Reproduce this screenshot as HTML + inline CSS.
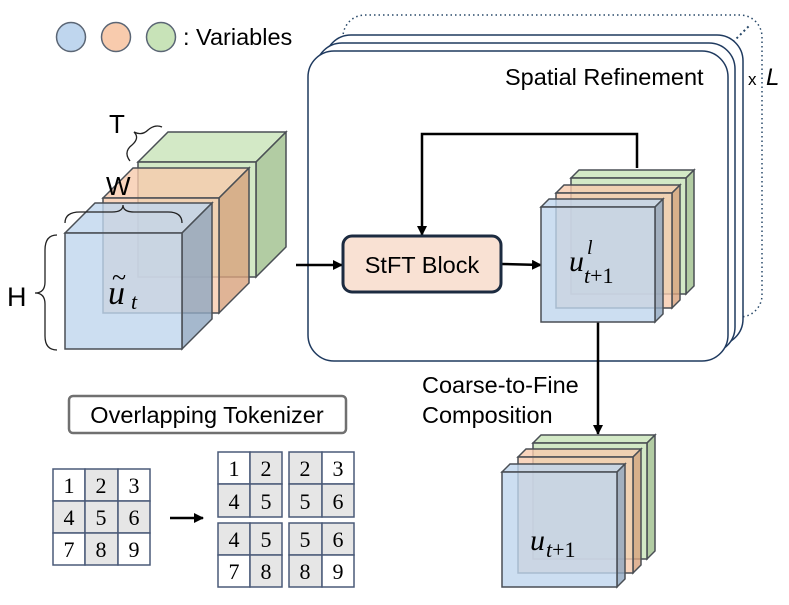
<!DOCTYPE html>
<html><head><meta charset="utf-8"><style>
html,body{margin:0;padding:0;background:#fff;}
svg{display:block;}
.s{font-family:"Liberation Sans",sans-serif;}
.m{font-family:"Liberation Serif","DejaVu Serif",serif;font-style:italic;}
.n{font-family:"Liberation Serif",serif;font-size:22px;}
.c polygon,.c rect{fill-opacity:0.8;}
</style></head><body>
<svg width="789" height="605" viewBox="0 0 789 605" xmlns="http://www.w3.org/2000/svg">
<defs>
<marker id="ah" markerWidth="10" markerHeight="10" refX="9" refY="5" orient="auto" markerUnits="userSpaceOnUse">
<path d="M0,0 L10,5 L0,10 z" fill="#000"/></marker>
</defs>
<circle cx="71" cy="37" r="14.5" fill="#bfd6ee" stroke="#5b6675" stroke-width="1.5"/>
<circle cx="116" cy="37" r="14.5" fill="#f8cbad" stroke="#5b6675" stroke-width="1.5"/>
<circle cx="161" cy="37" r="14.5" fill="#c8e3b8" stroke="#5b6675" stroke-width="1.5"/>
<text x="183" y="45" class="s" font-size="23.5">: Variables</text>

<rect x="343" y="15" width="419" height="302" rx="22" fill="none" stroke="#2a4a6a" stroke-width="1.5" stroke-dasharray="1.5,3"/>
<line x1="733" y1="42" x2="750" y2="25" stroke="#2a4a6a" stroke-width="2" stroke-dasharray="2,3"/>
<rect x="325" y="35" width="418" height="310" rx="26" fill="#fff" stroke="#1f3a5f" stroke-width="1.5"/>
<rect x="316" y="43" width="419" height="310" rx="26" fill="#fff" stroke="#1f3a5f" stroke-width="1.5"/>
<rect x="308" y="51" width="420" height="310" rx="26" fill="#fff" stroke="#1f3a5f" stroke-width="1.5"/>
<text x="505" y="85" class="s" font-size="23.5">Spatial Refinement</text>
<text x="748" y="85" class="s" font-size="17">x</text>
<text x="766" y="85" class="s" font-size="24" font-style="italic">L</text>

<g class="c" stroke="#4a4f55" stroke-width="1.5">
<g><polygon points="138,162 168,132 286,132 256,162" fill="#c8e3b8"/><polygon points="256,162 286,132 286,247 256,277" fill="#9fbf8c"/><rect x="138" y="162" width="118" height="115" fill="#c8e3b8"/></g>
<g><polygon points="103,198 133,168 249,168 219,198" fill="#f8cbad"/><polygon points="219,198 249,168 249,283 219,313" fill="#d8a17c"/><rect x="103" y="198" width="116" height="115" fill="#f8cbad"/></g>
<g><polygon points="65,233 95,203 212,203 182,233" fill="#bfd6ee"/><polygon points="182,233 212,203 212,319 182,349" fill="#8fa6c0"/><rect x="65" y="233" width="117" height="116" fill="#bfd6ee"/></g>
</g>
<text x="108" y="304" class="m" font-size="34">u</text>
<text x="112" y="286" font-family="Liberation Serif,serif" font-size="26">~</text>
<text x="131" y="309" class="m" font-size="22">t</text>
<g fill="none" stroke="#222" stroke-width="1.3">
<path d="M57,235 Q45,235 45,250 L45,282 Q45,293 35,293 Q45,293 45,304 L45,336 Q45,350 57,350"/>
<path d="M65,223 Q65,212 80,212 L112,212 Q123,212 123,205 Q123,212 134,212 L168,212 Q182,212 182,223"/>
<path d="M130,161 Q123,152 132,145 Q140,138 134,132 Q142,136 148,130 Q155,124 162,127"/>
</g>
<text x="7" y="306" class="s" font-size="27">H</text>
<text x="106" y="195" class="s" font-size="26">W</text>
<text x="109" y="133" class="s" font-size="26">T</text>

<line x1="296" y1="265" x2="342" y2="265" stroke="#000" stroke-width="2.5" marker-end="url(#ah)"/>
<line x1="502" y1="264" x2="541" y2="265" stroke="#000" stroke-width="2.5" marker-end="url(#ah)"/>
<polyline points="637,168 637,134 422,134 422,235" fill="none" stroke="#000" stroke-width="2.5" marker-end="url(#ah)"/>
<line x1="598" y1="322" x2="598" y2="434" stroke="#000" stroke-width="2.5" marker-end="url(#ah)"/>

<rect x="343" y="236" width="158" height="56" rx="9" fill="#f9e1d3" stroke="#1c2b40" stroke-width="3"/>
<text x="422" y="273" class="s" font-size="23.5" text-anchor="middle">StFT Block</text>

<g class="c" stroke="#4a4f55" stroke-width="1.5">
<g><polygon points="571,178 579,170 694,170 686,178" fill="#c8e3b8"/><polygon points="686,178 694,170 694,286 686,294" fill="#9fbf8c"/><rect x="571" y="178" width="115" height="116" fill="#c8e3b8"/></g>
<g><polygon points="556,193 564,185 680,185 672,193" fill="#f8cbad"/><polygon points="672,193 680,185 680,300 672,308" fill="#d8a17c"/><rect x="556" y="193" width="116" height="115" fill="#f8cbad"/></g>
<g><polygon points="541,207 549,199 663,199 655,207" fill="#bfd6ee"/><polygon points="655,207 663,199 663,314 655,322" fill="#8fa6c0"/><rect x="541" y="207" width="114" height="115" fill="#bfd6ee"/></g>
</g>
<text x="569" y="271" class="m" font-size="30">u</text>
<text x="587" y="254" class="m" font-size="20">l</text>
<text x="584" y="283" class="m" font-size="22">t<tspan font-style="normal">+1</tspan></text>

<text x="422" y="393" class="s" font-size="23.5">Coarse-to-Fine</text>
<text x="422" y="423" class="s" font-size="23.5">Composition</text>

<g class="c" stroke="#4a4f55" stroke-width="1.5">
<g><polygon points="533,443 541,435 655,435 647,443" fill="#c8e3b8"/><polygon points="647,443 655,435 655,551 647,559" fill="#9fbf8c"/><rect x="533" y="443" width="114" height="116" fill="#c8e3b8"/></g>
<g><polygon points="518,457 526,449 641,449 633,457" fill="#f8cbad"/><polygon points="633,457 641,449 641,565 633,573" fill="#d8a17c"/><rect x="518" y="457" width="115" height="116" fill="#f8cbad"/></g>
<g><polygon points="502,472 510,464 625,464 617,472" fill="#bfd6ee"/><polygon points="617,472 625,464 625,579 617,587" fill="#8fa6c0"/><rect x="502" y="472" width="115" height="115" fill="#bfd6ee"/></g>
</g>
<text x="530" y="550" class="m" font-size="30">u</text>
<text x="546" y="557" class="m" font-size="22">t<tspan font-style="normal">+1</tspan></text>

<rect x="69" y="396" width="277" height="37" rx="4" fill="#fff" stroke="#707070" stroke-width="2.5"/>
<text x="207" y="423" class="s" font-size="23.5" text-anchor="middle">Overlapping Tokenizer</text>

<g stroke="#4a5a78" stroke-width="1.5">
<rect x="53" y="469" width="32" height="32" fill="#fff"/><rect x="85" y="469" width="33" height="32" fill="#e6e6e6"/><rect x="118" y="469" width="32" height="32" fill="#fff"/>
<rect x="53" y="501" width="32" height="32" fill="#e6e6e6"/><rect x="85" y="501" width="33" height="32" fill="#e6e6e6"/><rect x="118" y="501" width="32" height="32" fill="#e6e6e6"/>
<rect x="53" y="533" width="32" height="32" fill="#fff"/><rect x="85" y="533" width="33" height="32" fill="#e6e6e6"/><rect x="118" y="533" width="32" height="32" fill="#fff"/>
<rect x="218" y="452" width="32" height="32" fill="#fff"/><rect x="250" y="452" width="32" height="32" fill="#e6e6e6"/>
<rect x="218" y="484" width="32" height="33" fill="#e6e6e6"/><rect x="250" y="484" width="32" height="33" fill="#e6e6e6"/>
<rect x="289" y="452" width="33" height="32" fill="#e6e6e6"/><rect x="322" y="452" width="32" height="32" fill="#fff"/>
<rect x="289" y="484" width="33" height="33" fill="#e6e6e6"/><rect x="322" y="484" width="32" height="33" fill="#e6e6e6"/>
<rect x="218" y="523" width="32" height="32" fill="#e6e6e6"/><rect x="250" y="523" width="32" height="32" fill="#e6e6e6"/>
<rect x="218" y="555" width="32" height="32" fill="#fff"/><rect x="250" y="555" width="32" height="32" fill="#e6e6e6"/>
<rect x="289" y="523" width="33" height="32" fill="#e6e6e6"/><rect x="322" y="523" width="32" height="32" fill="#e6e6e6"/>
<rect x="289" y="555" width="33" height="32" fill="#e6e6e6"/><rect x="322" y="555" width="32" height="32" fill="#fff"/>
</g>
<g class="n" text-anchor="middle">
<text x="69" y="493">1</text><text x="101" y="493">2</text><text x="134" y="493">3</text>
<text x="69" y="525">4</text><text x="101" y="525">5</text><text x="134" y="525">6</text>
<text x="69" y="557">7</text><text x="101" y="557">8</text><text x="134" y="557">9</text>
<text x="234" y="476">1</text><text x="266" y="476">2</text><text x="305" y="476">2</text><text x="338" y="476">3</text>
<text x="234" y="509">4</text><text x="266" y="509">5</text><text x="305" y="509">5</text><text x="338" y="509">6</text>
<text x="234" y="547">4</text><text x="266" y="547">5</text><text x="305" y="547">5</text><text x="338" y="547">6</text>
<text x="234" y="579">7</text><text x="266" y="579">8</text><text x="305" y="579">8</text><text x="338" y="579">9</text>
</g>
<line x1="170" y1="518" x2="203" y2="518" stroke="#000" stroke-width="2.5" marker-end="url(#ah)"/>
</svg>
</body></html>
